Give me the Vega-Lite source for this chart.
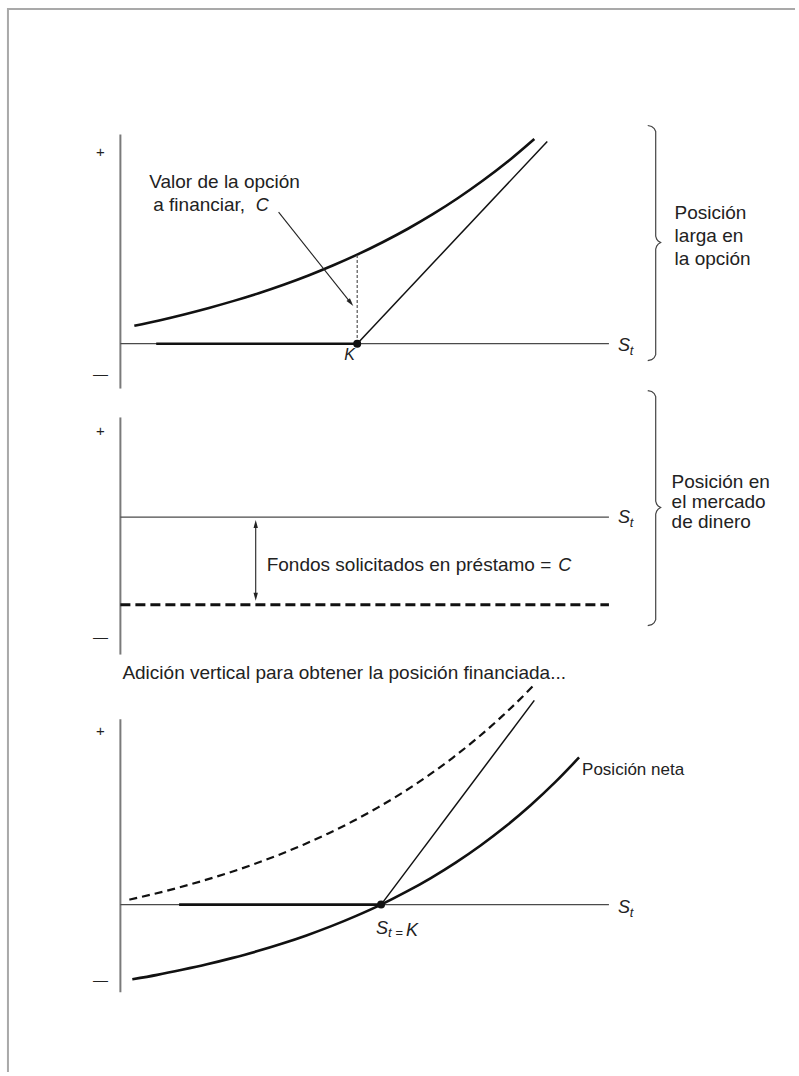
{
  "$schema": "https://vega.github.io/schema/vega-lite/v6.json",
  "width": 799,
  "height": 1076,
  "autosize": {"type": "fit", "contains": "padding"},
  "padding": 0,
  "background": "white",
  "config": {"view": {"stroke": null}, "text": {"font": "Liberation Sans"}},
  "datasets": {
    "trazos": [
      {"serie": "marco", "i": 0, "x": 799, "y": 9},
      {"serie": "marco", "i": 1, "x": 8, "y": 9},
      {"serie": "marco", "i": 2, "x": 8, "y": 1076},
      {"serie": "eje_v1", "i": 0, "x": 121, "y": 135},
      {"serie": "eje_v1", "i": 1, "x": 121, "y": 390},
      {"serie": "eje_h1", "i": 0, "x": 121, "y": 345},
      {"serie": "eje_h1", "i": 1, "x": 612, "y": 345},
      {"serie": "eje_v2", "i": 0, "x": 121, "y": 419},
      {"serie": "eje_v2", "i": 1, "x": 121, "y": 657},
      {"serie": "eje_h2", "i": 0, "x": 121, "y": 519},
      {"serie": "eje_h2", "i": 1, "x": 612, "y": 519},
      {"serie": "eje_v3", "i": 0, "x": 121, "y": 722},
      {"serie": "eje_v3", "i": 1, "x": 121, "y": 996},
      {"serie": "eje_h3", "i": 0, "x": 121, "y": 908},
      {"serie": "eje_h3", "i": 1, "x": 612, "y": 908},
      {"serie": "opcion1", "i": 0, "x": 135, "y": 327.0},
      {"serie": "opcion1", "i": 1, "x": 160, "y": 321.6},
      {"serie": "opcion1", "i": 2, "x": 185, "y": 315.6},
      {"serie": "opcion1", "i": 3, "x": 210, "y": 309.1},
      {"serie": "opcion1", "i": 4, "x": 235, "y": 302.0},
      {"serie": "opcion1", "i": 5, "x": 260, "y": 294.3},
      {"serie": "opcion1", "i": 6, "x": 285, "y": 285.8},
      {"serie": "opcion1", "i": 7, "x": 310, "y": 276.5},
      {"serie": "opcion1", "i": 8, "x": 335, "y": 266.3},
      {"serie": "opcion1", "i": 9, "x": 359, "y": 255.6},
      {"serie": "opcion1", "i": 10, "x": 385, "y": 242.9},
      {"serie": "opcion1", "i": 11, "x": 410, "y": 229.6},
      {"serie": "opcion1", "i": 12, "x": 435, "y": 215.0},
      {"serie": "opcion1", "i": 13, "x": 460, "y": 199.0},
      {"serie": "opcion1", "i": 14, "x": 485, "y": 181.5},
      {"serie": "opcion1", "i": 15, "x": 510, "y": 162.4},
      {"serie": "opcion1", "i": 16, "x": 537, "y": 139.5},
      {"serie": "pago_plano1", "i": 0, "x": 157, "y": 345},
      {"serie": "pago_plano1", "i": 1, "x": 359, "y": 345},
      {"serie": "pago_alza1", "i": 0, "x": 359, "y": 345},
      {"serie": "pago_alza1", "i": 1, "x": 550, "y": 142},
      {"serie": "guia_C", "i": 0, "x": 359, "y": 256},
      {"serie": "guia_C", "i": 1, "x": 359, "y": 345},
      {"serie": "flecha_C", "i": 0, "x": 280, "y": 213},
      {"serie": "flecha_C", "i": 1, "x": 352.5, "y": 304},
      {"serie": "prestamo", "i": 0, "x": 121, "y": 607},
      {"serie": "prestamo", "i": 1, "x": 612, "y": 607},
      {"serie": "flecha_fondos", "i": 0, "x": 257, "y": 526},
      {"serie": "flecha_fondos", "i": 1, "x": 257, "y": 599},
      {"serie": "opcion3", "i": 0, "x": 130, "y": 903.0},
      {"serie": "opcion3", "i": 1, "x": 155, "y": 897.2},
      {"serie": "opcion3", "i": 2, "x": 180, "y": 890.8},
      {"serie": "opcion3", "i": 3, "x": 205, "y": 883.7},
      {"serie": "opcion3", "i": 4, "x": 230, "y": 876.0},
      {"serie": "opcion3", "i": 5, "x": 255, "y": 867.5},
      {"serie": "opcion3", "i": 6, "x": 280, "y": 858.1},
      {"serie": "opcion3", "i": 7, "x": 305, "y": 847.8},
      {"serie": "opcion3", "i": 8, "x": 330, "y": 836.5},
      {"serie": "opcion3", "i": 9, "x": 355, "y": 824.1},
      {"serie": "opcion3", "i": 10, "x": 380, "y": 810.4},
      {"serie": "opcion3", "i": 11, "x": 405, "y": 795.4},
      {"serie": "opcion3", "i": 12, "x": 430, "y": 778.8},
      {"serie": "opcion3", "i": 13, "x": 455, "y": 760.6},
      {"serie": "opcion3", "i": 14, "x": 480, "y": 740.6},
      {"serie": "opcion3", "i": 15, "x": 505, "y": 718.6},
      {"serie": "opcion3", "i": 16, "x": 530, "y": 694.4},
      {"serie": "opcion3", "i": 17, "x": 537, "y": 687.2},
      {"serie": "neta", "i": 0, "x": 133, "y": 983.0},
      {"serie": "neta", "i": 1, "x": 158, "y": 978.5},
      {"serie": "neta", "i": 2, "x": 183, "y": 973.4},
      {"serie": "neta", "i": 3, "x": 208, "y": 967.9},
      {"serie": "neta", "i": 4, "x": 233, "y": 961.7},
      {"serie": "neta", "i": 5, "x": 258, "y": 954.9},
      {"serie": "neta", "i": 6, "x": 283, "y": 947.3},
      {"serie": "neta", "i": 7, "x": 308, "y": 938.9},
      {"serie": "neta", "i": 8, "x": 333, "y": 929.6},
      {"serie": "neta", "i": 9, "x": 358, "y": 919.3},
      {"serie": "neta", "i": 10, "x": 383, "y": 908.0},
      {"serie": "neta", "i": 11, "x": 408, "y": 895.3},
      {"serie": "neta", "i": 12, "x": 433, "y": 881.3},
      {"serie": "neta", "i": 13, "x": 458, "y": 865.8},
      {"serie": "neta", "i": 14, "x": 483, "y": 848.6},
      {"serie": "neta", "i": 15, "x": 508, "y": 829.6},
      {"serie": "neta", "i": 16, "x": 533, "y": 808.5},
      {"serie": "neta", "i": 17, "x": 558, "y": 785.1},
      {"serie": "neta", "i": 18, "x": 582, "y": 760.3},
      {"serie": "pago_plano3", "i": 0, "x": 180, "y": 908},
      {"serie": "pago_plano3", "i": 1, "x": 383, "y": 908},
      {"serie": "pago_alza3", "i": 0, "x": 383, "y": 908},
      {"serie": "pago_alza3", "i": 1, "x": 537, "y": 703},
      {"serie": "llave1", "i": 0, "x": 651, "y": 126},
      {"serie": "llave1", "i": 1, "x": 655, "y": 127},
      {"serie": "llave1", "i": 2, "x": 657.5, "y": 129},
      {"serie": "llave1", "i": 3, "x": 659, "y": 132},
      {"serie": "llave1", "i": 4, "x": 659, "y": 237},
      {"serie": "llave1", "i": 5, "x": 660, "y": 240},
      {"serie": "llave1", "i": 6, "x": 661.5, "y": 242},
      {"serie": "llave1", "i": 7, "x": 664, "y": 243.5},
      {"serie": "llave1", "i": 8, "x": 661.5, "y": 245},
      {"serie": "llave1", "i": 9, "x": 660, "y": 247},
      {"serie": "llave1", "i": 10, "x": 659, "y": 250},
      {"serie": "llave1", "i": 11, "x": 659, "y": 356},
      {"serie": "llave1", "i": 12, "x": 657.5, "y": 359},
      {"serie": "llave1", "i": 13, "x": 655, "y": 361},
      {"serie": "llave1", "i": 14, "x": 651, "y": 362},
      {"serie": "llave2", "i": 0, "x": 651, "y": 392},
      {"serie": "llave2", "i": 1, "x": 655, "y": 393},
      {"serie": "llave2", "i": 2, "x": 657.5, "y": 395},
      {"serie": "llave2", "i": 3, "x": 659, "y": 398},
      {"serie": "llave2", "i": 4, "x": 659, "y": 503},
      {"serie": "llave2", "i": 5, "x": 660, "y": 506},
      {"serie": "llave2", "i": 6, "x": 661.5, "y": 508},
      {"serie": "llave2", "i": 7, "x": 664, "y": 509.5},
      {"serie": "llave2", "i": 8, "x": 661.5, "y": 511},
      {"serie": "llave2", "i": 9, "x": 660, "y": 513},
      {"serie": "llave2", "i": 10, "x": 659, "y": 516},
      {"serie": "llave2", "i": 11, "x": 659, "y": 622},
      {"serie": "llave2", "i": 12, "x": 657.5, "y": 625},
      {"serie": "llave2", "i": 13, "x": 655, "y": 627},
      {"serie": "llave2", "i": 14, "x": 651, "y": 628}
    ],
    "puntos": [
      {"serie": "K_panel1", "x": 359, "y": 345},
      {"serie": "K_panel3", "x": 383, "y": 908}
    ],
    "puntas": [
      {"serie": "fondos_arriba", "dir": "arriba", "x": 257, "y": 526},
      {"serie": "fondos_abajo", "dir": "abajo", "x": 257, "y": 599},
      {"serie": "flecha_C", "dir": "diagonal", "x": 352.5, "y": 303.9}
    ],
    "textos": [
      {"rol": "etiqueta", "texto": "Valor de la opción", "x": 150, "y": 189},
      {"rol": "etiqueta", "texto": "a financiar,", "x": 154, "y": 212},
      {"rol": "etiqueta", "texto": "Posición", "x": 678, "y": 220},
      {"rol": "etiqueta", "texto": "larga en", "x": 678, "y": 243},
      {"rol": "etiqueta", "texto": "la opción", "x": 678, "y": 266},
      {"rol": "etiqueta", "texto": "Posición en", "x": 675, "y": 490},
      {"rol": "etiqueta", "texto": "el mercado", "x": 675, "y": 510},
      {"rol": "etiqueta", "texto": "de dinero", "x": 675, "y": 530},
      {"rol": "etiqueta", "texto": "Fondos solicitados en préstamo =", "x": 268, "y": 573},
      {"rol": "etiqueta", "texto": "Adición vertical para obtener la posición financiada...", "x": 123, "y": 682},
      {"rol": "variable", "texto": "C", "x": 257, "y": 212},
      {"rol": "variable", "texto": "C", "x": 561, "y": 573},
      {"rol": "variable", "texto": "S", "x": 621, "y": 352},
      {"rol": "variable", "texto": "S", "x": 621, "y": 525},
      {"rol": "variable", "texto": "S", "x": 621, "y": 916},
      {"rol": "variable", "texto": "S", "x": 378, "y": 937},
      {"rol": "variable", "texto": "K", "x": 408, "y": 939},
      {"rol": "strike", "texto": "K", "x": 346, "y": 361},
      {"rol": "subindice", "texto": "t", "x": 633, "y": 356},
      {"rol": "subindice", "texto": "t", "x": 633, "y": 529},
      {"rol": "subindice", "texto": "t", "x": 633, "y": 920},
      {"rol": "subindice", "texto": "t =", "x": 390, "y": 940},
      {"rol": "signo", "texto": "+", "x": 101, "y": 158},
      {"rol": "signo", "texto": "+", "x": 101, "y": 438},
      {"rol": "signo", "texto": "+", "x": 101, "y": 739},
      {"rol": "signo", "texto": "—", "x": 101, "y": 380},
      {"rol": "signo", "texto": "—", "x": 101, "y": 644},
      {"rol": "signo", "texto": "—", "x": 101, "y": 989},
      {"rol": "nota", "texto": "Posición neta", "x": 585, "y": 778}
    ]
  },
  "encoding": {
    "x": {"field": "x", "type": "quantitative", "scale": {"domain": [0, 799], "nice": false, "zero": false}, "axis": null},
    "y": {"field": "y", "type": "quantitative", "scale": {"domain": [0, 1076], "nice": false, "zero": false, "reverse": true}, "axis": null}
  },
  "layer": [
    {
      "data": {"name": "trazos"},
      "transform": [{"filter": {"field": "serie", "equal": "marco"}}],
      "mark": {"type": "line", "stroke": "#a9a9a9", "strokeWidth": 2},
      "encoding": {"detail": {"field": "serie"}, "order": {"field": "i", "type": "quantitative"}}
    },
    {
      "data": {"name": "trazos"},
      "transform": [{"filter": {"field": "serie", "oneOf": ["eje_v1", "eje_v2", "eje_v3"]}}],
      "mark": {"type": "line", "stroke": "#7a7a7a", "strokeWidth": 2},
      "encoding": {"detail": {"field": "serie"}, "order": {"field": "i", "type": "quantitative"}}
    },
    {
      "data": {"name": "trazos"},
      "transform": [{"filter": {"field": "serie", "oneOf": ["eje_h1", "eje_h2", "eje_h3"]}}],
      "mark": {"type": "line", "stroke": "#4a4a4a", "strokeWidth": 1.3},
      "encoding": {"detail": {"field": "serie"}, "order": {"field": "i", "type": "quantitative"}}
    },
    {
      "data": {"name": "trazos"},
      "transform": [{"filter": {"field": "serie", "oneOf": ["opcion1", "pago_plano1", "neta", "pago_plano3"]}}],
      "mark": {"type": "line", "stroke": "#111111", "strokeWidth": 2.6, "interpolate": "monotone"},
      "encoding": {"detail": {"field": "serie"}, "order": {"field": "i", "type": "quantitative"}}
    },
    {
      "data": {"name": "trazos"},
      "transform": [{"filter": {"field": "serie", "oneOf": ["pago_alza1", "pago_alza3"]}}],
      "mark": {"type": "line", "stroke": "#111111", "strokeWidth": 1.5},
      "encoding": {"detail": {"field": "serie"}, "order": {"field": "i", "type": "quantitative"}}
    },
    {
      "data": {"name": "trazos"},
      "transform": [{"filter": {"field": "serie", "oneOf": ["flecha_C", "flecha_fondos"]}}],
      "mark": {"type": "line", "stroke": "#222222", "strokeWidth": 1.1},
      "encoding": {"detail": {"field": "serie"}, "order": {"field": "i", "type": "quantitative"}}
    },
    {
      "data": {"name": "trazos"},
      "transform": [{"filter": {"field": "serie", "equal": "guia_C"}}],
      "mark": {"type": "line", "stroke": "#555555", "strokeWidth": 1.2, "strokeDash": [3, 2]},
      "encoding": {"detail": {"field": "serie"}, "order": {"field": "i", "type": "quantitative"}}
    },
    {
      "data": {"name": "trazos"},
      "transform": [{"filter": {"field": "serie", "equal": "prestamo"}}],
      "mark": {"type": "line", "stroke": "#111111", "strokeWidth": 3.2, "strokeDash": [10, 5]},
      "encoding": {"detail": {"field": "serie"}, "order": {"field": "i", "type": "quantitative"}}
    },
    {
      "data": {"name": "trazos"},
      "transform": [{"filter": {"field": "serie", "equal": "opcion3"}}],
      "mark": {"type": "line", "stroke": "#111111", "strokeWidth": 2.2, "strokeDash": [8, 5], "interpolate": "monotone"},
      "encoding": {"detail": {"field": "serie"}, "order": {"field": "i", "type": "quantitative"}}
    },
    {
      "data": {"name": "trazos"},
      "transform": [{"filter": {"field": "serie", "oneOf": ["llave1", "llave2"]}}],
      "mark": {"type": "line", "stroke": "#444444", "strokeWidth": 1.2},
      "encoding": {"detail": {"field": "serie"}, "order": {"field": "i", "type": "quantitative"}}
    },
    {
      "data": {"name": "puntos"},
      "mark": {"type": "point", "shape": "circle", "filled": true, "fill": "#111111", "opacity": 1, "size": 64}
    },
    {
      "data": {"name": "puntas"},
      "transform": [{"filter": {"field": "dir", "equal": "arriba"}}],
      "mark": {"type": "point", "shape": "M0,-1L0.55,1L-0.55,1Z", "filled": true, "fill": "#222222", "opacity": 1, "size": 64, "angle": 0}
    },
    {
      "data": {"name": "puntas"},
      "transform": [{"filter": {"field": "dir", "equal": "abajo"}}],
      "mark": {"type": "point", "shape": "M0,-1L0.55,1L-0.55,1Z", "filled": true, "fill": "#222222", "opacity": 1, "size": 64, "angle": 180}
    },
    {
      "data": {"name": "puntas"},
      "transform": [{"filter": {"field": "dir", "equal": "diagonal"}}],
      "mark": {"type": "point", "shape": "M0,-1L0.55,1L-0.55,1Z", "filled": true, "fill": "#222222", "opacity": 1, "size": 64, "angle": 141.4}
    },
    {
      "data": {"name": "textos"},
      "transform": [{"filter": {"field": "rol", "equal": "etiqueta"}}],
      "mark": {"type": "text", "align": "left", "baseline": "alphabetic", "fontSize": 19, "fill": "#222222"},
      "encoding": {"text": {"field": "texto"}}
    },
    {
      "data": {"name": "textos"},
      "transform": [{"filter": {"field": "rol", "equal": "variable"}}],
      "mark": {"type": "text", "align": "left", "baseline": "alphabetic", "fontSize": 18, "fontStyle": "italic", "fill": "#222222"},
      "encoding": {"text": {"field": "texto"}}
    },
    {
      "data": {"name": "textos"},
      "transform": [{"filter": {"field": "rol", "equal": "strike"}}],
      "mark": {"type": "text", "align": "left", "baseline": "alphabetic", "fontSize": 16, "fontStyle": "italic", "fill": "#222222"},
      "encoding": {"text": {"field": "texto"}}
    },
    {
      "data": {"name": "textos"},
      "transform": [{"filter": {"field": "rol", "equal": "subindice"}}],
      "mark": {"type": "text", "align": "left", "baseline": "alphabetic", "fontSize": 13, "fontStyle": "italic", "fill": "#222222"},
      "encoding": {"text": {"field": "texto"}}
    },
    {
      "data": {"name": "textos"},
      "transform": [{"filter": {"field": "rol", "equal": "signo"}}],
      "mark": {"type": "text", "align": "center", "baseline": "alphabetic", "fontSize": 15, "fill": "#222222"},
      "encoding": {"text": {"field": "texto"}}
    },
    {
      "data": {"name": "textos"},
      "transform": [{"filter": {"field": "rol", "equal": "nota"}}],
      "mark": {"type": "text", "align": "left", "baseline": "alphabetic", "fontSize": 17, "fill": "#222222"},
      "encoding": {"text": {"field": "texto"}}
    }
  ]
}
